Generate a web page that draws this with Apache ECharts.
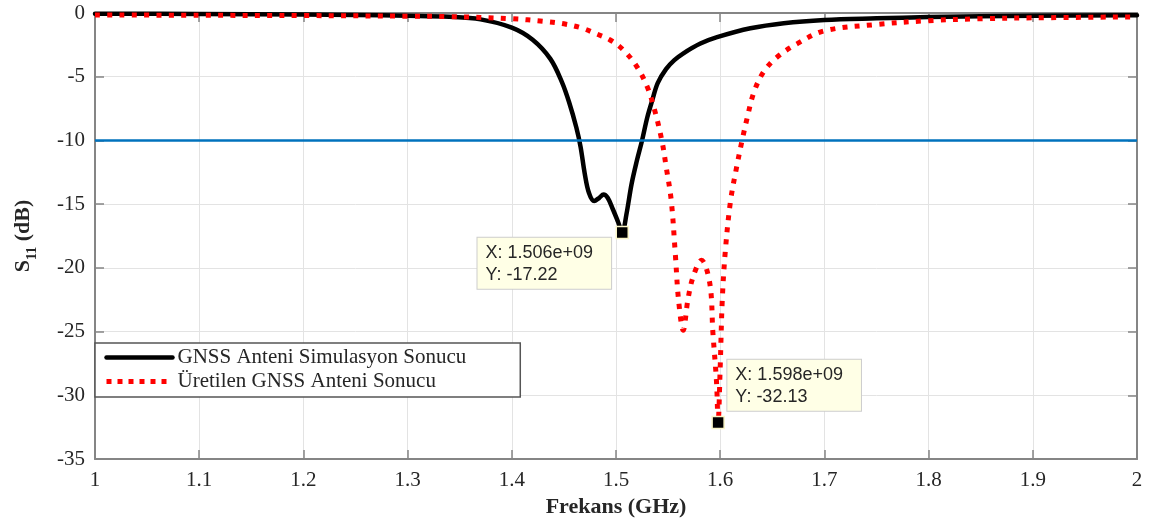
<!DOCTYPE html>
<html>
<head>
<meta charset="utf-8">
<script src="https://cdn.jsdelivr.net/npm/echarts@6/dist/echarts.min.js"></script>
<style>
  html, body { margin: 0; padding: 0; background: #fff; }
  #chart { width: 1153px; height: 524px; }
</style>
</head>
<body>
<div id="chart"></div>
<script>
// Simulated S11 of the GNSS antenna (frequency in GHz, S11 in dB)
const simFreq = [1.00, 1.10, 1.20, 1.25, 1.30, 1.34, 1.37, 1.40, 1.420, 1.437, 1.448, 1.455, 1.462, 1.466,
  1.470, 1.474, 1.479, 1.484, 1.488, 1.492, 1.497, 1.502, 1.506, 1.510, 1.515, 1.520, 1.525, 1.530,
  1.535, 1.540, 1.548, 1.556, 1.564, 1.581, 1.597, 1.629, 1.661, 1.70, 1.75, 1.80, 1.90, 2.00];
const simS11 = [-0.05, -0.08, -0.12, -0.16, -0.22, -0.30, -0.50, -1.15, -2.1, -3.6, -5.4, -7.0, -9.0, -10.5,
  -12.6, -14.1, -14.75, -14.5, -14.25, -14.5, -15.4, -16.4, -17.22, -15.8, -13.4, -11.6, -10.0, -8.2,
  -6.8, -5.5, -4.4, -3.7, -3.2, -2.4, -1.9, -1.2, -0.8, -0.55, -0.42, -0.32, -0.22, -0.17];

// Measured S11 of the fabricated antenna
const measFreq = [1.00, 1.10, 1.20, 1.30, 1.34, 1.40, 1.43, 1.45, 1.468, 1.480, 1.494, 1.507, 1.520, 1.530,
  1.537, 1.544, 1.548, 1.553, 1.557, 1.560, 1.5645, 1.569, 1.574, 1.582, 1.590, 1.593, 1.5965, 1.598,
  1.600, 1.602, 1.605, 1.610, 1.616, 1.621, 1.626, 1.632, 1.641, 1.654, 1.674, 1.70, 1.75, 1.80, 1.85,
  1.90, 2.00];
const measS11 = [-0.15, -0.18, -0.20, -0.25, -0.28, -0.45, -0.65, -0.85, -1.2, -1.6, -2.1, -2.9, -4.2, -5.8,
  -7.6, -10.0, -12.0, -14.7, -19.0, -22.5, -24.9, -22.5, -20.7, -19.4, -21.2, -25.1, -29.0, -32.13,
  -27.8, -22.5, -18.6, -14.7, -12.0, -10.0, -8.2, -6.3, -4.7, -3.5, -2.4, -1.4, -0.9, -0.6, -0.45,
  -0.38, -0.30];

// -10 dB reference level
const refFreq = [1.0, 2.0];
const refS11 = [-10, -10];

// Data tips
const simTip = [1.506, -17.22];
const measTip = [1.598, -32.13];

// Tick labels
const xTickLabels = ['1', '1.1', '1.2', '1.3', '1.4', '1.5', '1.6', '1.7', '1.8', '1.9', '2'];
const yTickLabels = ['-35', '-30', '-25', '-20', '-15', '-10', '-5', '0'];

const seriesNames = ['GNSS Anteni Simulasyon Sonucu', 'Üretilen GNSS Anteni Sonucu'];

const zip = (xs, ys) => xs.map((x, i) => [x, ys[i]]);

function tipText(f, s) {
  const hz = f * 1e9;
  const parts = hz.toExponential(3).split('e');
  const exp = parseInt(parts[1], 10);
  const expStr = (exp >= 0 ? '+' : '-') + String(Math.abs(exp)).padStart(2, '0');
  return 'X: ' + parts[0] + 'e' + expStr + '\nY: ' + s.toFixed(2);
}

const serif = '"Liberation Serif", "Times New Roman", serif';
const sans = '"Liberation Sans", Arial, sans-serif';
const axisGray = '#858585';
const textColor = '#262626';

const tipLabel = {
  show: true,
  formatter: p => tipText(p.data.coord[0], p.data.coord[1]),
  backgroundColor: '#ffffe6',
  borderColor: '#cdcdcd',
  borderWidth: 1,
  padding: [4, 18, 3, 8],
  fontFamily: sans,
  fontSize: 18,
  lineHeight: 22,
  color: textColor,
  align: 'left'
};

const chart = echarts.init(document.getElementById('chart'), null, { renderer: 'canvas' });

chart.setOption({
  animation: false,
  backgroundColor: '#fff',
  grid: { left: 95, right: 16, top: 13, bottom: 65, containLabel: false },
  legend: {
    data: [
      { name: seriesNames[0], itemStyle: { opacity: 0 }, lineStyle: { width: 4.5, color: '#000', type: 'solid' } },
      { name: seriesNames[1], itemStyle: { opacity: 0 }, lineStyle: { width: 5, color: '#ff0000', type: [5, 6], cap: 'butt' } }
    ],
    orient: 'vertical',
    left: 95,
    top: 343,
    itemWidth: 66,
    itemHeight: 14,
    itemGap: 1,
    padding: [3, 54, 4, 9],
    backgroundColor: '#fff',
    borderColor: '#555',
    borderWidth: 1.5,
    borderRadius: 0,
    selectedMode: false,
    textStyle: { fontFamily: serif, fontSize: 21, color: textColor, lineHeight: 23 }
  },
  xAxis: [
    {
      type: 'value', position: 'bottom', min: 1, max: 2, interval: 0.1,
      name: 'Frekans (GHz)', nameLocation: 'middle', nameGap: 30,
      nameTextStyle: { fontFamily: serif, fontSize: 22, fontWeight: 'bold', color: textColor },
      axisLine: { show: true, onZero: false, lineStyle: { color: axisGray, width: 2 } },
      axisTick: { show: true, inside: true, length: 9, lineStyle: { color: axisGray, width: 1.5 } },
      axisLabel: {
        margin: 11, fontFamily: serif, fontSize: 21, color: textColor,
        formatter: v => xTickLabels[Math.round((v - 1) * 10)]
      },
      splitLine: { show: true, lineStyle: { color: '#e3e3e3', width: 1 } }
    },
    {
      type: 'value', position: 'top', min: 1, max: 2, interval: 0.1,
      axisLine: { show: true, onZero: false, lineStyle: { color: axisGray, width: 2 } },
      axisTick: { show: true, inside: true, length: 9, lineStyle: { color: axisGray, width: 1.5 } },
      axisLabel: { show: false },
      splitLine: { show: false }
    }
  ],
  yAxis: [
    {
      type: 'value', position: 'left', min: -35, max: 0, interval: 5,
      name: '{s|S}{sub|11}{s| (dB)}', nameLocation: 'middle', nameGap: 58,
      nameTextStyle: {
        rich: {
          s: { fontFamily: serif, fontSize: 22, fontWeight: 'bold', color: textColor, lineHeight: 28 },
          sub: { fontFamily: serif, fontSize: 14, fontWeight: 'bold', color: textColor, lineHeight: 28, verticalAlign: 'bottom', padding: [0, 0, -2, 0] }
        }
      },
      axisLine: { show: true, onZero: false, lineStyle: { color: axisGray, width: 2 } },
      axisTick: { show: true, inside: true, length: 9, lineStyle: { color: axisGray, width: 1.5 } },
      axisLabel: {
        margin: 10, fontFamily: serif, fontSize: 21, color: textColor,
        formatter: v => yTickLabels[Math.round((v + 35) / 5)]
      },
      splitLine: { show: true, lineStyle: { color: '#e3e3e3', width: 1 } }
    },
    {
      type: 'value', position: 'right', min: -35, max: 0, interval: 5,
      axisLine: { show: true, onZero: false, lineStyle: { color: axisGray, width: 2 } },
      axisTick: { show: true, inside: true, length: 9, lineStyle: { color: axisGray, width: 1.5 } },
      axisLabel: { show: false },
      splitLine: { show: false }
    }
  ],
  series: [
    {
      name: seriesNames[0],
      type: 'line',
      xAxisIndex: 0, yAxisIndex: 0,
      data: zip(simFreq, simS11),
      symbol: 'none',
      smooth: 0.35,
      lineStyle: { color: '#000', width: 4.5, cap: 'round', join: 'round' },
      itemStyle: { color: '#000' },
      z: 2,
      markPoint: {
        symbol: 'rect', symbolSize: 12, z: 10,
        itemStyle: { color: '#000', borderColor: '#fbf6c8', borderWidth: 1.5 },
        data: [{ coord: simTip }],
        label: Object.assign({}, tipLabel, { position: [-138, 12], verticalAlign: 'top' })
      }
    },
    {
      name: seriesNames[1],
      type: 'line',
      xAxisIndex: 0, yAxisIndex: 0,
      data: zip(measFreq, measS11),
      symbol: 'none',
      smooth: 0.35,
      lineStyle: { color: '#ff0000', width: 5, type: [5, 7.3], cap: 'butt' },
      itemStyle: { color: '#ff0000' },
      z: 3,
      markPoint: {
        symbol: 'rect', symbolSize: 12, z: 10,
        itemStyle: { color: '#000', borderColor: '#fbf6c8', borderWidth: 1.5 },
        data: [{ coord: measTip }],
        label: Object.assign({}, tipLabel, { position: [16, -5], verticalAlign: 'bottom' })
      }
    },
    {
      name: '-10 dB',
      type: 'line',
      xAxisIndex: 0, yAxisIndex: 0,
      data: zip(refFreq, refS11),
      symbol: 'none',
      lineStyle: { color: '#0072BD', width: 2.5 },
      z: 4,
      silent: true
    }
  ]
});
</script>
</body>
</html>
